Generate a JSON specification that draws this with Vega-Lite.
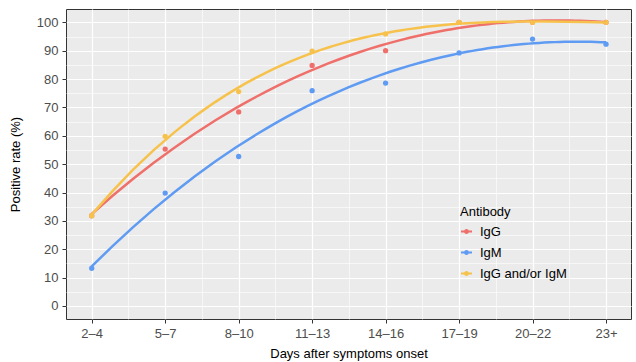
{
  "$schema": "https://vega.github.io/schema/vega-lite/v6.json",
  "width": 565,
  "height": 310,
  "autosize": "none",
  "padding": {"left": 66, "top": 9, "right": 5, "bottom": 43},
  "background": "white",
  "config": {
    "font": "Liberation Sans",
    "view": {"fill": "#EBEBEB", "stroke": "#333333", "strokeWidth": 1}
  },
  "data": {
    "values": [
      {"days": 3, "antibody": "IgG", "rate": 31.8},
      {"days": 6, "antibody": "IgG", "rate": 55.3},
      {"days": 9, "antibody": "IgG", "rate": 68.4},
      {"days": 12, "antibody": "IgG", "rate": 84.8},
      {"days": 15, "antibody": "IgG", "rate": 90.0},
      {"days": 18, "antibody": "IgG", "rate": 100},
      {"days": 21, "antibody": "IgG", "rate": 100},
      {"days": 24, "antibody": "IgG", "rate": 100},
      {"days": 3, "antibody": "IgM", "rate": 13.3},
      {"days": 6, "antibody": "IgM", "rate": 39.8},
      {"days": 9, "antibody": "IgM", "rate": 52.7},
      {"days": 12, "antibody": "IgM", "rate": 75.9},
      {"days": 15, "antibody": "IgM", "rate": 78.6},
      {"days": 18, "antibody": "IgM", "rate": 89.2},
      {"days": 21, "antibody": "IgM", "rate": 94.1},
      {"days": 24, "antibody": "IgM", "rate": 92.3},
      {"days": 3, "antibody": "IgG and/or IgM", "rate": 31.8},
      {"days": 6, "antibody": "IgG and/or IgM", "rate": 59.8},
      {"days": 9, "antibody": "IgG and/or IgM", "rate": 75.6},
      {"days": 12, "antibody": "IgG and/or IgM", "rate": 89.8},
      {"days": 15, "antibody": "IgG and/or IgM", "rate": 95.9},
      {"days": 18, "antibody": "IgG and/or IgM", "rate": 100},
      {"days": 21, "antibody": "IgG and/or IgM", "rate": 100},
      {"days": 24, "antibody": "IgG and/or IgM", "rate": 100}
    ]
  },
  "layer": [
    {
      "mark": {"type": "point", "filled": true, "opacity": 1, "size": 28},
      "encoding": {
        "x": {
          "field": "days", "type": "quantitative",
          "scale": {"domain": [1.95, 25.02], "nice": false, "zero": false},
          "axis": {"orient": "bottom", "values": [4.5, 7.5, 10.5, 13.5, 16.5, 19.5, 22.5], "grid": true, "gridColor": "#FFFFFF", "gridWidth": 0.6, "labels": false, "ticks": false, "domain": false, "title": null}
        },
        "y": {
          "field": "rate", "type": "quantitative",
          "scale": {"domain": [-4.6, 104.7], "nice": false, "zero": false},
          "axis": {"orient": "left", "values": [5, 15, 25, 35, 45, 55, 65, 75, 85, 95], "grid": true, "gridColor": "#FFFFFF", "gridWidth": 0.6, "labels": false, "ticks": false, "domain": false, "title": null}
        },
        "color": {
          "field": "antibody", "type": "nominal",
          "scale": {"domain": ["IgG", "IgM", "IgG and/or IgM"], "range": ["#EF6F6A", "#5F9BF2", "#F7C24C"]},
          "legend": {
            "orient": "none", "legendX": 394, "legendY": 197, "padding": 0,
            "title": "Antibody", "titleFontSize": 13, "titleFontWeight": "normal", "titleColor": "#000000", "titlePadding": 6,
            "labelFontSize": 13, "labelColor": "#000000", "labelOffset": 7,
            "symbolType": "M-1,-0.18H1V0.18H-1Z M0.45,0A0.45,0.45 0 1,1 -0.45,0A0.45,0.45 0 1,1 0.45,0Z",
            "symbolSize": 121, "symbolStrokeWidth": 0, "rowPadding": 7
          }
        }
      }
    },
    {
      "transform": [{"regression": "rate", "on": "days", "groupby": ["antibody"], "method": "poly", "order": 3}],
      "mark": {"type": "line", "strokeWidth": 2.5},
      "encoding": {
        "x": {
          "field": "days", "type": "quantitative",
          "axis": {"orient": "bottom", "values": [3, 6, 9, 12, 15, 18, 21, 24], "grid": true, "gridColor": "#FFFFFF", "gridWidth": 1.2, "domain": false,
            "ticks": true, "tickColor": "#333333", "tickSize": 4, "tickWidth": 1,
            "labelExpr": "datum.value == 24 ? '23+' : (datum.value - 1) + '–' + (datum.value + 1)",
            "labelFontSize": 13, "labelColor": "#4D4D4D", "labelPadding": 4,
            "title": "Days after symptoms onset", "titleFontSize": 13, "titleFontWeight": "normal", "titleColor": "#000000", "titlePadding": 7}
        },
        "y": {
          "field": "rate", "type": "quantitative",
          "axis": {"orient": "left", "values": [0, 10, 20, 30, 40, 50, 60, 70, 80, 90, 100], "grid": true, "gridColor": "#FFFFFF", "gridWidth": 1.2, "domain": false,
            "ticks": true, "tickColor": "#333333", "tickSize": 4, "tickWidth": 1,
            "labelFontSize": 13, "labelColor": "#4D4D4D", "labelPadding": 4,
            "title": "Positive rate (%)", "titleFontSize": 13, "titleFontWeight": "normal", "titleColor": "#000000", "titlePadding": 14}
        },
        "color": {"field": "antibody", "type": "nominal", "legend": null}
      }
    }
  ],
  "resolve": {"axis": {"x": "independent", "y": "independent"}}
}
